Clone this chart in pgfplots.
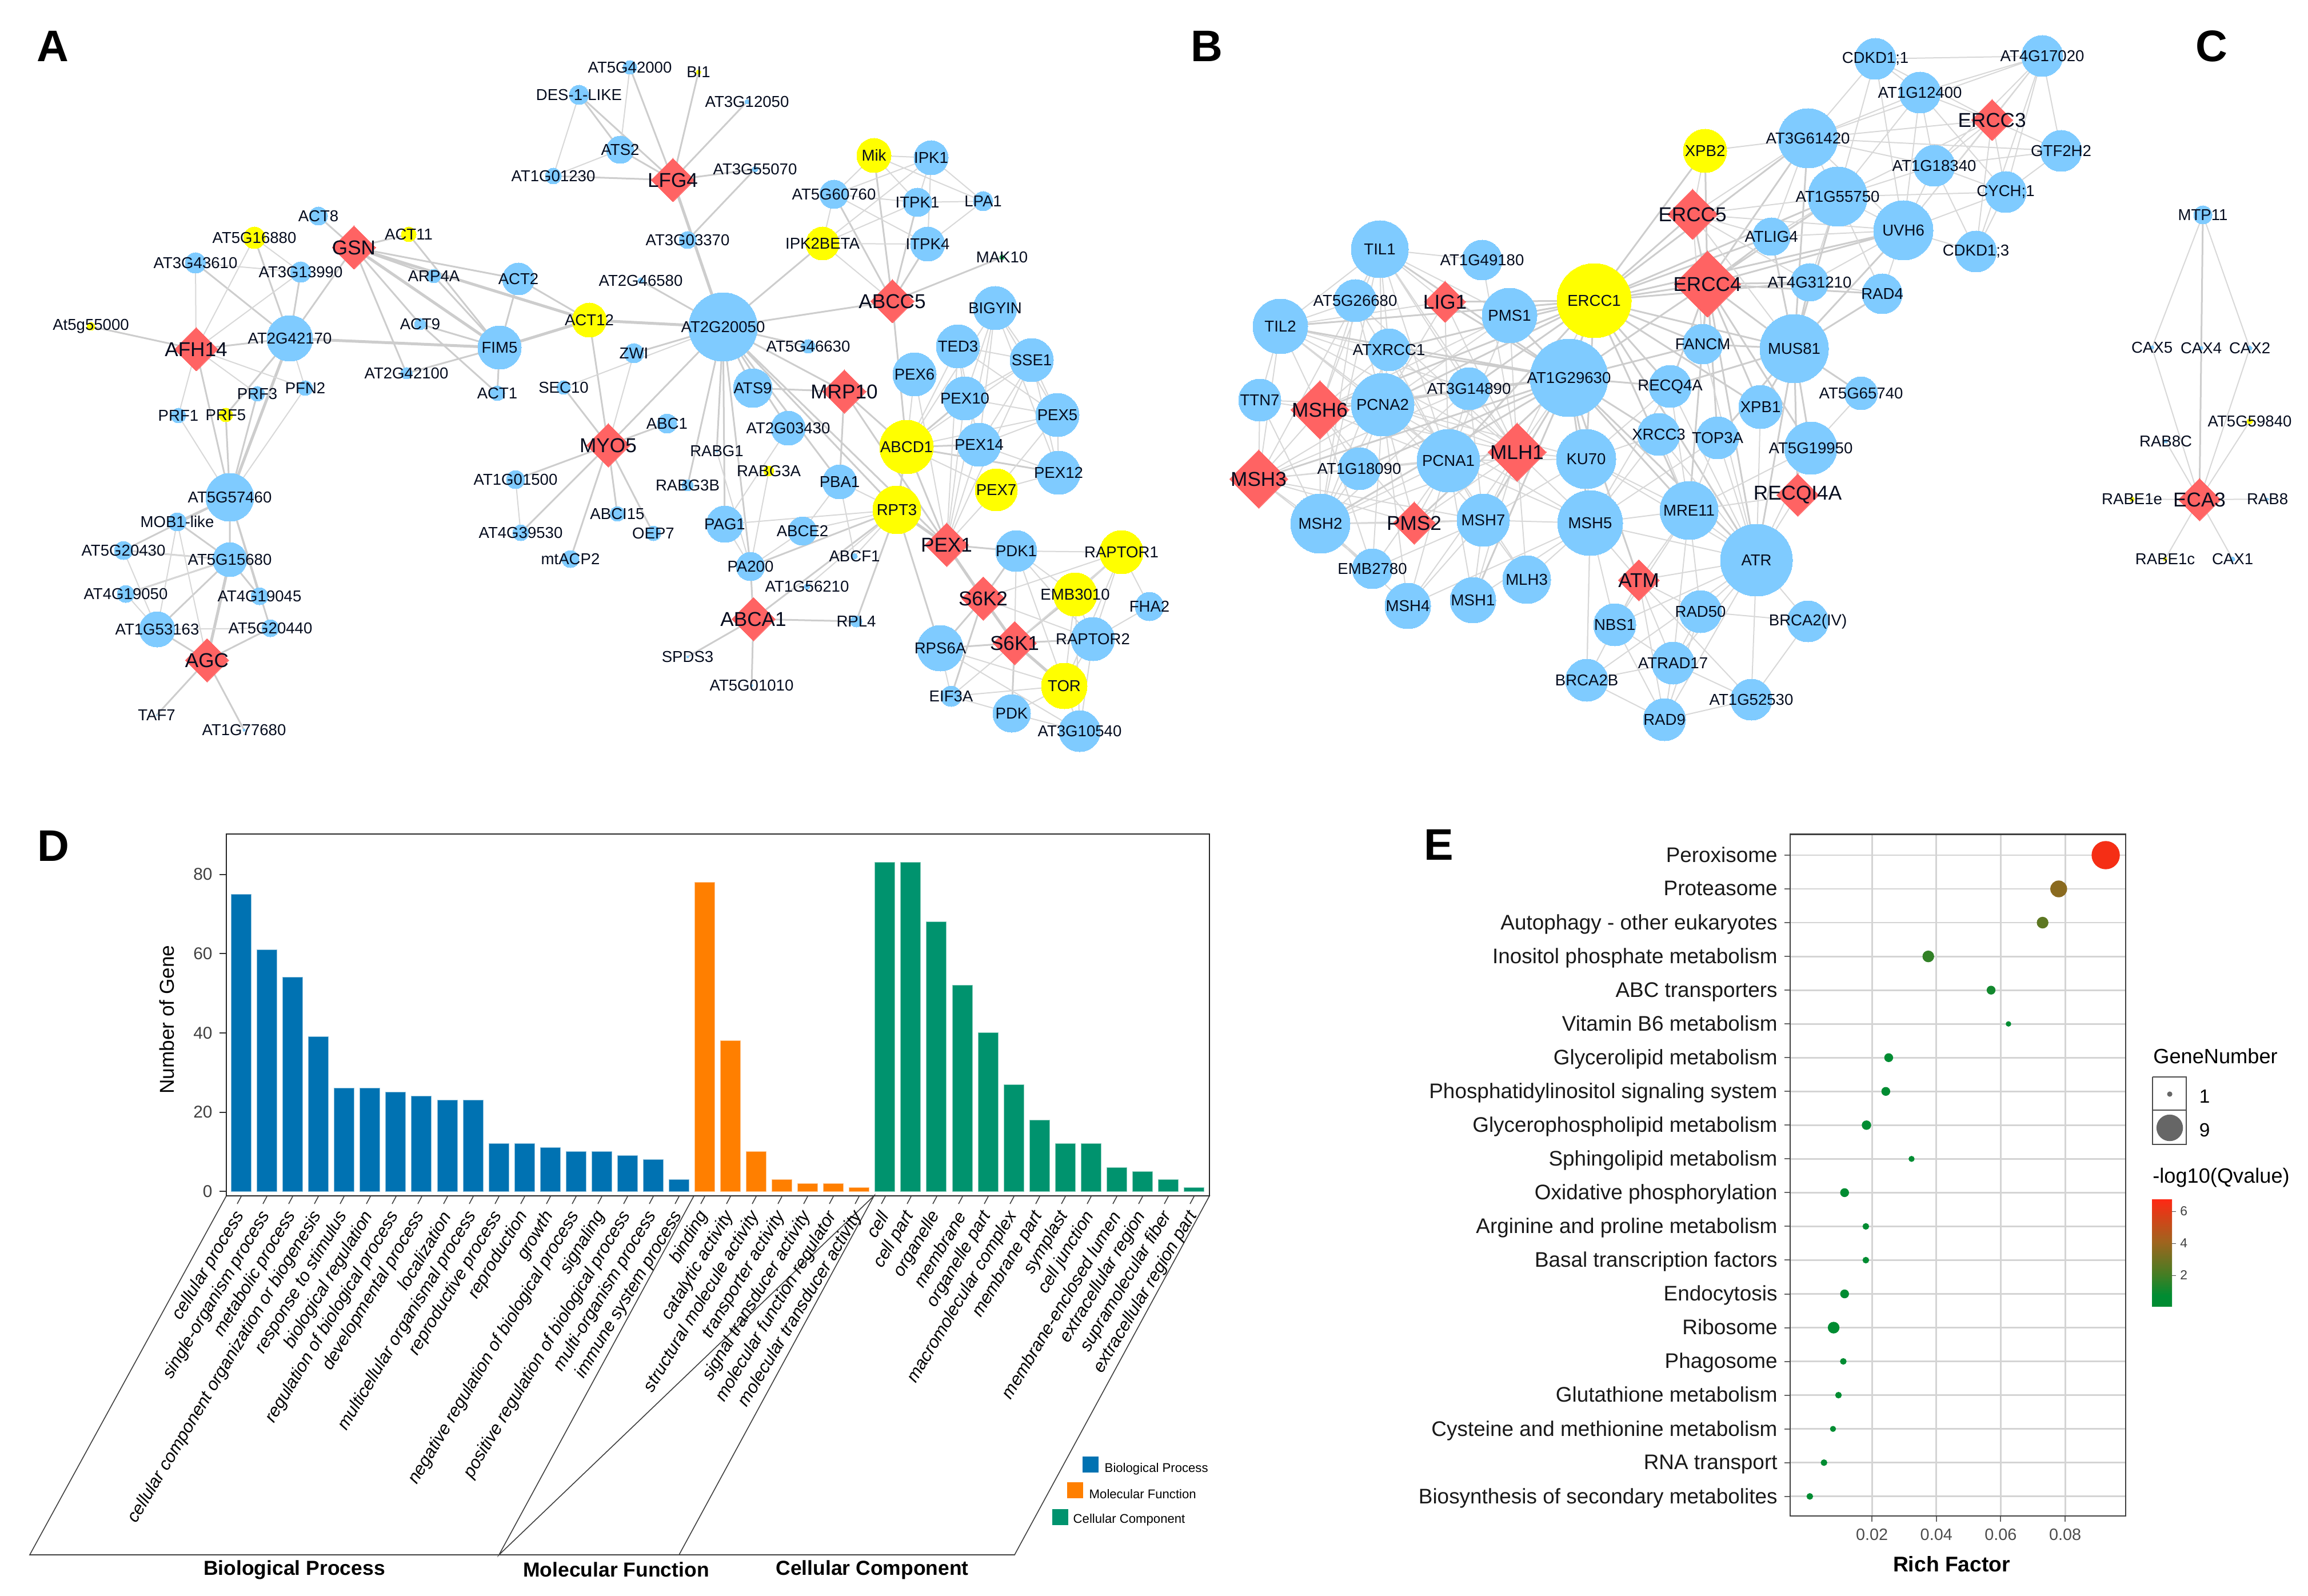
\documentclass[border=0pt]{standalone}
\usepackage{pgfplots}
\usepackage{pgfplotstable}
\usepackage{fontspec}
\setmainfont{Liberation Sans}
\pgfplotsset{compat=1.18}
\definecolor{nblue}{RGB}{127,203,255}
\definecolor{nyel}{RGB}{255,255,0}
\definecolor{nred}{RGB}{255,99,99}
\definecolor{ngreen}{RGB}{40,190,90}
\definecolor{etxt}{RGB}{5,12,30}
\definecolor{ecol}{RGB}{205,205,205}
\definecolor{ethin}{RGB}{216,216,216}
\definecolor{bpblue}{RGB}{0,114,178}
\definecolor{mforange}{RGB}{255,127,0}
\definecolor{ccgreen}{RGB}{0,147,110}
\newcommand{\fs}[1]{\fontsize{#1}{#1}\selectfont}
% a plain ; in a symbolic meta value breaks the coordinate stream
\protected\def\semi{;}
\pgfplotsset{
  edgeT/.style={no marks,sharp plot,unbounded coords=jump,line join=round,color=ecol,line width=0.5mm},
  edgeM/.style={no marks,sharp plot,unbounded coords=jump,line join=round,color=ecol,line width=0.3mm},
  edgeF/.style={no marks,sharp plot,unbounded coords=jump,line join=round,color=ethin,line width=0.2mm},
  net/.style={scatter,only marks,mark=*,
    visualization depends on={0.2845*\thisrow{r}\as\rad},
    scatter/@pre marker code/.code={\scope[mark size=\rad pt]},
    scatter/@post marker code/.code={\endscope}},
  netlab/.style={only marks,mark=none,point meta=explicit symbolic,
    nodes near coords,nodes near coords align={center},
    every node near coord/.append style={inner sep=0pt,text=etxt,font=\fs{#1}}},
}
% network nodes, in pixels of the reference
\pgfplotstableread{
x y r name
557 378 16 ACT8
342 460 18 AT3G43610
526 476 18 AT3G13990
759 483 12 ARP4A
907 488 28 ACT2
507 592 40 AT2G42170
874 608 38 FIM5
735 567 10 ACT9
711 653 10 AT2G42100
870 688 13 ACT1
986 678 12 SEC10
450 689 13 PRF3
534 679 13 PFN2
312 727 13 PRF1
402 870 42 AT5G57460
310 913 16 MOB1-like
216 963 16 AT5G20430
402 979 30 AT5G15680
220 1039 15 AT4G19050
454 1043 15 AT4G19045
275 1101 31 AT1G53163
473 1099 15 AT5G20440
274 1251 1 TAF7
427 1277 2 AT1G77680
1013 166 17 DES-1-LIKE
968 308 14 AT1G01230
902 839 16 AT1G01500
911 932 14 AT4G39530
998 978 15 mtACP2
1102 118 12 AT5G42000
1307 178 4 AT3G12050
1085 262 24 ATS2
1321 296 5 AT3G55070
1629 276 30 IPK1
1459 340 25 AT5G60760
1605 354 25 ITPK1
1720 352 17 LPA1
1203 420 15 AT3G03370
1623 427 30 ITPK4
1121 491 5 AT2G46580
1741 539 38 BIGYIN
1265 572 60 AT2G20050
1676 606 38 TED3
1109 618 17 ZWI
1414 606 12 AT5G46630
1805 630 38 SSE1
1600 655 38 PEX6
1317 679 34 ATS9
1688 697 38 PEX10
1850 726 38 PEX5
1167 741 17 ABC1
1379 749 30 AT2G03430
1713 778 38 PEX14
1254 789 2 RABG1
1469 843 30 PBA1
1203 849 10 RABG3B
1852 827 38 PEX12
1080 899 13 ABCI15
1268 917 32 PAG1
1143 933 13 OEP7
1404 929 25 ABCE2
1778 964 36 PDK1
1495 973 5 ABCF1
1313 991 25 PA200
1412 1026 5 AT1G56210
2011 1061 25 FHA2
1498 1087 10 RPL4
1912 1118 38 RAPTOR2
1645 1134 40 RPS6A
1203 1149 2 SPDS3
1315 1199 2 AT5G01010
1664 1218 18 EIF3A
1770 1248 33 PDK
1889 1279 36 AT3G10540
2414 436 50 TIL1
2593 455 35 AT1G49180
2371 526 37 AT5G26680
2641 552 48 PMS1
2240 571 48 TIL2
2979 602 35 FANCM
2430 612 37 ATXRCC1
2745 661 68 AT1G29630
2922 676 37 RECQ4A
2570 680 37 AT3G14890
2204 700 37 TTN7
2419 708 55 PCNA2
3080 712 38 XPB1
2902 760 37 XRCC3
3005 766 37 TOP3A
2775 803 52 KU70
2534 806 55 PCNA1
2378 820 37 AT1G18090
2310 916 52 MSH2
2595 910 46 MSH7
2782 915 57 MSH5
2955 893 51 MRE11
3073 980 63 ATR
2401 995 35 EMB2780
2671 1014 42 MLH3
2463 1060 40 MSH4
2577 1050 40 MSH1
2975 1070 37 RAD50
2825 1093 37 NBS1
2776 1190 37 BRCA2B
2927 1160 37 ATRAD17
2912 1259 37 RAD9
3064 1224 36 AT1G52530
3099 414 33 ATLIG4
3281 103 36 CDKD1\semi1
3573 98 36 AT4G17020
3359 162 36 AT1G12400
3163 242 52 AT3G61420
3606 264 36 GTF2H2
3384 290 36 AT1G18340
3509 336 36 CYCH\semi1
3215 344 52 AT1G55750
3330 403 52 UVH6
3457 440 36 CDKD1\semi3
3166 494 33 AT4G31210
3293 514 35 RAD4
3139 610 60 MUS81
3256 688 29 AT5G65740
3168 784 46 AT5G19950
3163 1087 36 BRCA2(IV)
3854 376 16 MTP11
3765 608 3 CAX5
3851 609 3 CAX4
3936 609 4 CAX2
3789 772 3 RAB8C
3967 873 2 RAB8
3906 978 4 CAX1
}\tblue
\pgfplotstableread{
x y r name
445 416 19 AT5G16880
715 410 13 ACT11
159 571 7 At5g55000
1031 560 30 ACT12
395 726 12 PRF5
1222 126 4 BI1
1529 272 30 Mik
1439 426 29 IPK2BETA
1586 782 47 ABCD1
1345 824 9 RABG3A
1743 857 37 PEX7
1569 892 42 RPT3
1962 966 38 RAPTOR1
1881 1040 38 EMB3010
1862 1200 40 TOR
2983 264 38 XPB2
2789 526 65 ERCC1
3936 737 5 AT5G59840
3730 873 4 RABE1e
3788 978 3 RABE1c
}\tyellow
\pgfplotstableread{
x y r name
1753 450 4 MAK10
}\tgreen
\pgfplotstableread{
x y r name
619 433 38 GSN
343 611 38 AFH14
362 1155 38 AGC
1177 315 38 LFG4
1561 527 38 ABCC5
1477 685 38 MRP10
1064 779 38 MYO5
1656 953 38 PEX1
1720 1047 38 S6K2
1318 1083 38 ABCA1
1775 1125 38 S6K1
2961 375 44 ERCC5
2987 497 58 ERCC4
2528 528 36 LIG1
2309 717 51 MSH6
2654 791 51 MLH1
2202 838 51 MSH3
2474 915 37 PMS2
2867 1015 36 ATM
3485 210 36 ERCC3
3145 866 37 RECQI4A
3848 874 37 ECA3
}\tred
% panel E points: rich factor, row, radius in pixels, -log10(Q)
\pgfplotstableread{
x y r c
0.0926 0 24 6.5
0.0780 1 14 3.6
0.0730 2 9.5 2.6
0.0375 3 9.5 1.7
0.0570 4 7 1.1
0.0624 5 4 0.5
0.0252 6 7 0.6
0.0243 7 7 0.5
0.0183 8 7.5 0.3
0.0323 9 4.5 0.3
0.0115 10 7 0.3
0.0181 11 5 0.3
0.0181 12 5 0.3
0.0115 13 7 0.3
0.0081 14 9.5 0.2
0.0111 15 5 0.2
0.0096 16 5 0.2
0.0079 17 4.5 0.2
0.0051 18 5 0.2
0.0007 19 5 0.1
}\tenrich
\begin{document}
\begin{tikzpicture}
\path[use as bounding box] (0,0) rectangle (403.8mm,279.2mm);
\begin{axis}[at={(0,0)},anchor=south west,scale only axis,width=403.8mm,height=279.2mm,
  xmin=0,xmax=4038,ymin=0,ymax=2792,y dir=reverse,hide axis,clip=false]
% A: heavy edges
\addplot[edgeT] coordinates {(507,592)(874,608)(1031,560)(1265,572)(1177,315)(0,nan)(619,433)(1031,560)(0,nan)(402,979)(362,1155)(0,nan)(507,592)(402,870)(0,nan)(1656,953)(1720,1047)(1775,1125)(1862,1200)(0,nan)(619,433)(874,608)(0,nan)(1569,892)(1656,953)};
% A: medium edges
\addplot[edgeM] coordinates {
(507,592)(342,460)(507,592)(445,416)(507,592)(526,476)(507,592)(619,433)(507,592)(343,611)(507,592)(395,726)(507,592)(402,870)(0,nan)
(343,611)(159,571)(343,611)(402,870)(0,nan)
(619,433)(557,378)(619,433)(711,653)(619,433)(759,483)(619,433)(735,567)(619,433)(907,488)(619,433)(715,410)(0,nan)
(874,608)(715,410)(874,608)(759,483)(874,608)(735,567)(874,608)(711,653)(874,608)(870,688)(874,608)(907,488)(0,nan)
(735,567)(870,688)(0,nan)(907,488)(1031,560)(0,nan)
(402,870)(395,726)(402,870)(450,689)(402,870)(402,979)(402,870)(454,1043)(402,870)(310,913)(402,870)(216,963)(402,870)(473,1099)(0,nan)
(362,1155)(274,1251)(362,1155)(427,1277)(362,1155)(275,1101)(362,1155)(473,1099)(0,nan)
(402,979)(310,913)(402,979)(220,1039)(402,979)(454,1043)(402,979)(275,1101)(402,979)(216,963)(0,nan)
(1064,779)(1031,560)(1064,779)(986,678)(1064,779)(902,839)(1064,779)(911,932)(1064,779)(998,978)(1064,779)(1080,899)(1064,779)(1143,933)(1064,779)(1167,741)(1064,779)(1265,572)(0,nan)
(1177,315)(1013,166)(1177,315)(1102,118)(1177,315)(1222,126)(1177,315)(1307,178)(1177,315)(1085,262)(1177,315)(968,308)(1177,315)(1321,296)(0,nan)
(1265,572)(1109,618)(1265,572)(1121,491)(1265,572)(1439,426)(1265,572)(1561,527)(1265,572)(1317,679)(1265,572)(1477,685)(1265,572)(1414,606)(1265,572)(1379,749)(1265,572)(1469,843)(1265,572)(1268,917)(1265,572)(1313,991)(1265,572)(1254,789)(1265,572)(1203,849)(1265,572)(1569,892)(1265,572)(1656,953)(0,nan)
(1561,527)(1529,272)(1561,527)(1605,354)(1561,527)(1623,427)(1561,527)(1459,340)(1561,527)(1753,450)(1561,527)(1586,782)(0,nan)
(1477,685)(1317,679)(1477,685)(1586,782)(1477,685)(1656,953)(1477,685)(1469,843)(0,nan)
(1318,1083)(1498,1087)(1318,1083)(1203,1149)(1318,1083)(1315,1199)(1318,1083)(1313,991)(1318,1083)(1569,892)(0,nan)
(1586,782)(1656,953)(1586,782)(1569,892)(1586,782)(1852,827)(1586,782)(1713,778)(1586,782)(1688,697)(0,nan)
(1569,892)(1645,1134)(1569,892)(1498,1087)(1569,892)(1313,991)(0,nan)
(1720,1047)(1645,1134)(1720,1047)(1778,964)(1720,1047)(1664,1218)(0,nan)
(1775,1125)(1912,1118)(1775,1125)(1770,1248)(1775,1125)(1645,1134)(1775,1125)(1881,1040)(0,nan)
(1656,953)(1778,964)(0,nan)(1203,420)(1321,296)(0,nan)(1013,166)(1085,262)(0,nan)(3854,376)(3848,874)};
% A and C: fine edges
\addplot[edgeF] coordinates {
(445,416)(343,611)(445,416)(526,476)(0,nan)(342,460)(526,476)(0,nan)(342,460)(343,611)(526,476)(343,611)(312,727)(402,870)(534,679)(343,611)(0,nan)(507,592)(534,679)(0,nan)(343,611)(450,689)(0,nan)
(310,913)(275,1101)(216,963)(402,979)(0,nan)(220,1039)(275,1101)(473,1099)(0,nan)(310,913)(362,1155)(0,nan)(220,1039)(402,979)(0,nan)
(968,308)(1085,262)(1102,118)(0,nan)(1013,166)(968,308)(0,nan)(902,839)(911,932)(0,nan)(1109,618)(1064,779)(0,nan)(986,678)(1265,572)(0,nan)
(1529,272)(1629,276)(1529,272)(1605,354)(1529,272)(1720,352)(1529,272)(1459,340)(0,nan)
(1629,276)(1605,354)(1629,276)(1459,340)(1629,276)(1439,426)(1629,276)(1623,427)(1629,276)(1720,352)(0,nan)
(1439,426)(1623,427)(1439,426)(1605,354)(1439,426)(1561,527)(1439,426)(1459,340)(0,nan)
(1459,340)(1605,354)(1459,340)(1623,427)(0,nan)(1623,427)(1720,352)(1605,354)(0,nan)
(1656,953)(1741,539)(1656,953)(1676,606)(1656,953)(1600,655)(1656,953)(1688,697)(1656,953)(1713,778)(1656,953)(1743,857)(1656,953)(1805,630)(0,nan)
(1586,782)(1741,539)(1586,782)(1676,606)(1586,782)(1805,630)(1586,782)(1600,655)(1586,782)(1850,726)(1586,782)(1743,857)(0,nan)
(1741,539)(1805,630)(1741,539)(1850,726)(1741,539)(1688,697)(1741,539)(1713,778)(1741,539)(1852,827)(0,nan)
(1676,606)(1805,630)(1676,606)(1850,726)(1676,606)(1713,778)(1676,606)(1688,697)(0,nan)
(1805,630)(1850,726)(1805,630)(1852,827)(1805,630)(1713,778)(1805,630)(1688,697)(0,nan)
(1850,726)(1852,827)(1850,726)(1713,778)(1850,726)(1688,697)(1850,726)(1743,857)(0,nan)
(1852,827)(1743,857)(1852,827)(1713,778)(0,nan)
(1569,892)(1469,843)(1569,892)(1404,929)(1569,892)(1268,917)(1569,892)(1412,1026)(1569,892)(1495,973)(0,nan)
(1469,843)(1495,973)(0,nan)(1469,843)(1404,929)(1313,991)(1268,917)(1379,749)(0,nan)(1345,824)(1313,991)(1254,789)(0,nan)
(1862,1200)(1770,1248)(1862,1200)(1889,1279)(1862,1200)(1912,1118)(1862,1200)(1881,1040)(1862,1200)(1962,966)(1862,1200)(1645,1134)(1862,1200)(1664,1218)(1862,1200)(1778,964)(0,nan)
(1962,966)(1881,1040)(1962,966)(1912,1118)(1962,966)(1775,1125)(1962,966)(1720,1047)(1962,966)(1778,964)(1962,966)(2011,1061)(0,nan)
(1889,1279)(1912,1118)(1889,1279)(1770,1248)(1889,1279)(1645,1134)(1889,1279)(1881,1040)(0,nan)
(1912,1118)(2011,1061)(1912,1118)(1881,1040)(1912,1118)(1720,1047)(0,nan)
(1778,964)(1881,1040)(1778,964)(1775,1125)(1778,964)(1912,1118)(0,nan)
(1664,1218)(1770,1248)(1664,1218)(1775,1125)(1664,1218)(1645,1134)(0,nan)
(3854,376)(3765,608)(3848,874)(3936,609)(3854,376)(0,nan)
(3848,874)(3936,737)(3848,874)(3789,772)(3848,874)(3730,873)(3848,874)(3967,873)(3848,874)(3788,978)(3848,874)(3906,978)};
% B: fine edges, mismatch repair side
\addplot[edgeF] coordinates {
(2654,791)(2414,436)(2654,791)(2240,571)(2654,791)(2528,528)(2654,791)(2593,455)(2654,791)(2641,552)(2654,791)(2371,526)(2654,791)(2430,612)(2654,791)(2419,708)(2654,791)(2570,680)(2654,791)(2309,717)(2654,791)(2202,838)(2654,791)(2378,820)(2654,791)(2310,916)(2654,791)(2474,915)(2654,791)(2595,910)(2654,791)(2577,1050)(2654,791)(2463,1060)(2654,791)(2671,1014)(2654,791)(2775,803)(2654,791)(2782,915)(2654,791)(2745,661)(2654,791)(2789,526)(0,nan)
(2534,806)(2414,436)(2534,806)(2240,571)(2534,806)(2371,526)(2534,806)(2528,528)(2534,806)(2430,612)(2534,806)(2570,680)(2534,806)(2641,552)(2534,806)(2309,717)(2534,806)(2419,708)(2534,806)(2202,838)(2534,806)(2378,820)(2534,806)(2310,916)(2534,806)(2474,915)(2534,806)(2595,910)(2534,806)(2463,1060)(2534,806)(2577,1050)(2534,806)(2401,995)(2534,806)(2671,1014)(2534,806)(2775,803)(2534,806)(2782,915)(0,nan)
(2419,708)(2414,436)(2419,708)(2240,571)(2419,708)(2371,526)(2419,708)(2528,528)(2419,708)(2430,612)(2419,708)(2570,680)(2419,708)(2641,552)(2419,708)(2202,838)(2419,708)(2204,700)(2419,708)(2310,916)(2419,708)(2378,820)(2419,708)(2474,915)(2419,708)(2595,910)(2419,708)(2401,995)(2419,708)(2463,1060)(2419,708)(2775,803)(2419,708)(2782,915)(0,nan)
(2310,916)(2414,436)(2310,916)(2204,700)(2310,916)(2202,838)(2310,916)(2309,717)(2310,916)(2371,526)(2310,916)(2430,612)(2310,916)(2378,820)(2310,916)(2474,915)(2310,916)(2401,995)(2310,916)(2463,1060)(2310,916)(2595,910)(2310,916)(2570,680)(0,nan)
(2309,717)(2414,436)(2309,717)(2240,571)(2309,717)(2204,700)(2309,717)(2371,526)(2309,717)(2430,612)(2309,717)(2202,838)(2309,717)(2401,995)(2309,717)(2378,820)(2309,717)(2474,915)(2309,717)(2570,680)(2309,717)(2641,552)(0,nan)
(2202,838)(2240,571)(2202,838)(2204,700)(2202,838)(2371,526)(2202,838)(2378,820)(2202,838)(2401,995)(2202,838)(2474,915)(2202,838)(2570,680)(2202,838)(2595,910)(0,nan)
(2414,436)(2593,455)(2414,436)(2240,571)(2414,436)(2371,526)(2414,436)(2528,528)(2414,436)(2430,612)(2414,436)(2570,680)(2414,436)(2641,552)(0,nan)
(2240,571)(2371,526)(2240,571)(2204,700)(2240,571)(2430,612)(2240,571)(2570,680)(2240,571)(2528,528)(0,nan)
(2595,910)(2474,915)(2595,910)(2463,1060)(2595,910)(2577,1050)(2595,910)(2671,1014)(2595,910)(2782,915)(2595,910)(2775,803)(2595,910)(2570,680)(2595,910)(2401,995)(0,nan)
(2782,915)(2775,803)(2782,915)(2577,1050)(2782,915)(2671,1014)(2782,915)(2463,1060)(2782,915)(2955,893)(2782,915)(3073,980)(2782,915)(2867,1015)(2782,915)(2825,1093)(2782,915)(2776,1190)(2782,915)(2902,760)(2782,915)(2922,676)(2782,915)(3005,766)(0,nan)
(2775,803)(2955,893)(2775,803)(3073,980)(2775,803)(2902,760)(2775,803)(2922,676)};
% B: medium edges
\addplot[edgeM] coordinates {
(2745,661)(2240,571)(2745,661)(2414,436)(2745,661)(2430,612)(2745,661)(2570,680)(2745,661)(2528,528)(2745,661)(2641,552)(2745,661)(2309,717)(2745,661)(2378,820)(2745,661)(2202,838)(2745,661)(2310,916)(2745,661)(2474,915)(2745,661)(2595,910)(2745,661)(2577,1050)(2745,661)(2775,803)(2745,661)(2782,915)(2745,661)(2987,497)(2745,661)(2922,676)(2745,661)(2955,893)(2745,661)(3073,980)(2745,661)(2867,1015)(2745,661)(2979,602)(2745,661)(2902,760)(0,nan)
(2789,526)(2240,571)(2789,526)(2430,612)(2789,526)(2570,680)(2789,526)(2641,552)(2789,526)(2745,661)(2789,526)(2775,803)(2789,526)(2528,528)(2789,526)(2309,717)(2789,526)(2419,708)(2789,526)(2534,806)(2789,526)(2987,497)(2789,526)(2961,375)(2789,526)(2983,264)(2789,526)(3099,414)(2789,526)(3166,494)(2789,526)(3139,610)(2789,526)(2979,602)(2789,526)(2922,676)(2789,526)(3080,712)(2789,526)(2955,893)(2789,526)(3073,980)(2789,526)(3163,242)(2789,526)(3330,403)(2789,526)(3215,344)(0,nan)
(2987,497)(2983,264)(2987,497)(2961,375)(2987,497)(3099,414)(2987,497)(3166,494)(2987,497)(3139,610)(2987,497)(2979,602)(2987,497)(2922,676)(2987,497)(3080,712)(2987,497)(3005,766)(2987,497)(3163,242)(2987,497)(3215,344)(2987,497)(3330,403)(2987,497)(3293,514)(2987,497)(3168,784)(2987,497)(2955,893)(2987,497)(3073,980)(0,nan)
(3139,610)(3099,414)(3139,610)(3166,494)(3139,610)(3215,344)(3139,610)(3163,242)(3139,610)(3330,403)(3139,610)(3256,688)(3139,610)(3168,784)(3139,610)(3145,866)(3139,610)(3080,712)(3139,610)(2979,602)(3139,610)(2922,676)(3139,610)(3005,766)(3139,610)(3073,980)(3139,610)(3293,514)};
% B: fine edges, excision repair side
\addplot[edgeF] coordinates {
(3073,980)(2955,893)(3073,980)(2902,760)(3073,980)(3005,766)(3073,980)(2922,676)(3073,980)(2979,602)(3073,980)(2867,1015)(3073,980)(2975,1070)(3073,980)(2825,1093)(3073,980)(2927,1160)(3073,980)(2912,1259)(3073,980)(3064,1224)(3073,980)(3163,1087)(3073,980)(2776,1190)(3073,980)(3080,712)(3073,980)(3145,866)(3073,980)(3168,784)(0,nan)
(2955,893)(2902,760)(2955,893)(3005,766)(2955,893)(2922,676)(2955,893)(2867,1015)(2955,893)(2975,1070)(2955,893)(2825,1093)(2955,893)(2927,1160)(2955,893)(3145,866)(2955,893)(3168,784)(0,nan)
(2867,1015)(2825,1093)(2867,1015)(2975,1070)(2867,1015)(2927,1160)(2867,1015)(2912,1259)(2867,1015)(2776,1190)(2867,1015)(3064,1224)(0,nan)
(2912,1259)(2776,1190)(2912,1259)(2927,1160)(2912,1259)(3064,1224)(2912,1259)(2975,1070)(2912,1259)(2825,1093)(0,nan)
(2927,1160)(2776,1190)(2927,1160)(2825,1093)(2927,1160)(2975,1070)(2927,1160)(3064,1224)(0,nan)
(2782,915)(2776,1190)(0,nan)(2961,375)(2983,264)(2961,375)(3099,414)(2961,375)(3163,242)(2961,375)(3215,344)(2961,375)(3330,403)(2961,375)(2979,602)(2961,375)(3139,610)(2961,375)(3166,494)(0,nan)
(3330,403)(3163,242)(3330,403)(3215,344)(3330,403)(3384,290)(3330,403)(3509,336)(3330,403)(3457,440)(3330,403)(3485,210)(3330,403)(3359,162)(3330,403)(3293,514)(3330,403)(3166,494)(3330,403)(3099,414)(3330,403)(3281,103)(3330,403)(3573,98)(0,nan)
(3163,242)(2983,264)(3163,242)(3359,162)(3163,242)(3281,103)(3163,242)(3485,210)(3163,242)(3384,290)(3163,242)(3606,264)(3163,242)(3215,344)(3163,242)(3099,414)(3163,242)(3573,98)(0,nan)
(3215,344)(3359,162)(3215,344)(3281,103)(3215,344)(3485,210)(3215,344)(3384,290)(3215,344)(3509,336)(3215,344)(3099,414)(3215,344)(3293,514)(3215,344)(3166,494)(0,nan)
(3485,210)(3281,103)(3485,210)(3359,162)(3485,210)(3573,98)(3485,210)(3606,264)(3485,210)(3384,290)(3485,210)(3509,336)(3485,210)(3457,440)(0,nan)
(3384,290)(3359,162)(3384,290)(3573,98)(3384,290)(3606,264)(3384,290)(3509,336)(3384,290)(3457,440)(0,nan)
(3509,336)(3573,98)(3509,336)(3606,264)(3509,336)(3457,440)(3509,336)(3359,162)(0,nan)
(3573,98)(3281,103)(3573,98)(3359,162)(3573,98)(3606,264)(3573,98)(3457,440)(0,nan)
(3281,103)(3359,162)(0,nan)(3166,494)(3293,514)(0,nan)(3168,784)(3256,688)(0,nan)(3163,1087)(3064,1224)(0,nan)(2975,1070)(3163,1087)};
% network nodes
\addplot[net,mark options={draw=nblue,fill=nblue,line width=0pt}] table[x=x,y=y] {\tblue};
\addplot[net,mark options={draw=nyel,fill=nyel,line width=0pt}] table[x=x,y=y] {\tyellow};
\addplot[net,mark options={draw=ngreen,fill=ngreen,line width=0pt}] table[x=x,y=y] {\tgreen};
\addplot[scatter,only marks,mark=square*,
  mark options={draw=nred,fill=nred,line width=0pt,rotate=45},
  visualization depends on={0.2012*\thisrow{r}\as\rad},
  scatter/@pre marker code/.code={\scope[mark size=\rad pt]},
  scatter/@post marker code/.code={\endscope}] table[x=x,y=y] {\tred};
% network labels
\addplot[netlab=7.85] table[x=x,y=y,meta=name] {\tblue};
\addplot[netlab=7.85] table[x=x,y=y,meta=name] {\tyellow};
\addplot[netlab=7.85] table[x=x,y=y,meta=name] {\tgreen};
\addplot[netlab=10] table[x=x,y=y,meta=name] {\tred};
% D: slanted label area
\addplot[black!75,line width=0.16mm] coordinates {(396,2092)(52,2720)(1775,2720)(2116,2092)(0,nan)(1214,2092)(873,2720)(0,nan)(1529,2092)(1188,2720)};
% D: slanted ticks
\addplot[black!75,line width=0.16mm,no marks,unbounded coords=jump] coordinates {
(422,2093)(415,2106)(0,nan)(467,2093)(460,2106)(0,nan)(512,2093)(505,2106)(0,nan)(557,2093)(550,2106)(0,nan)(602,2093)(595,2106)(0,nan)(648,2093)(641,2106)(0,nan)(693,2093)(686,2106)(0,nan)(738,2093)(731,2106)(0,nan)(783,2093)(776,2106)(0,nan)(828,2093)(821,2106)(0,nan)
(873,2093)(866,2106)(0,nan)(918,2093)(911,2106)(0,nan)(963,2093)(956,2106)(0,nan)(1008,2093)(1001,2106)(0,nan)(1053,2093)(1046,2106)(0,nan)(1098,2093)(1091,2106)(0,nan)(1143,2093)(1136,2106)(0,nan)(1188,2093)(1181,2106)(0,nan)(1233,2093)(1226,2106)(0,nan)(1278,2093)(1271,2106)(0,nan)
(1323,2093)(1316,2106)(0,nan)(1368,2093)(1361,2106)(0,nan)(1413,2093)(1406,2106)(0,nan)(1458,2093)(1451,2106)(0,nan)(1503,2093)(1496,2106)(0,nan)(1549,2093)(1542,2106)(0,nan)(1594,2093)(1587,2106)(0,nan)(1639,2093)(1632,2106)(0,nan)(1684,2093)(1677,2106)(0,nan)(1729,2093)(1722,2106)(0,nan)
(1774,2093)(1767,2106)(0,nan)(1819,2093)(1812,2106)(0,nan)(1864,2093)(1857,2106)(0,nan)(1909,2093)(1902,2106)(0,nan)(1954,2093)(1947,2106)(0,nan)(1999,2093)(1992,2106)(0,nan)(2044,2093)(2037,2106)(0,nan)(2089,2093)(2082,2106)};
% D: legend
\addplot[only marks,mark=square*,mark size=3.9pt,color=bpblue] coordinates {(1908,2562)};
\addplot[only marks,mark=square*,mark size=3.9pt,color=mforange] coordinates {(1881,2607)};
\addplot[only marks,mark=square*,mark size=3.9pt,color=ccgreen] coordinates {(1855,2654)};
% E: size legend
\addplot[black!70,line width=0.2mm] coordinates {(3766,1884)(3825,1884)(3825,2002)(3766,2002)(3766,1884)(0,nan)(3766,1942)(3825,1942)};
\addplot[only marks,mark=*,mark size=1.1pt,color=black!60] coordinates {(3796,1914)};
\addplot[only marks,mark=*,mark size=6.4pt,color=black!60] coordinates {(3796,1973)};
% text
\node[font=\fs{22}\bfseries] at (axis cs:92,81) {A};
\node[font=\fs{22}\bfseries] at (axis cs:2111,81) {B};
\node[font=\fs{22}\bfseries] at (axis cs:3869,81) {C};
\node[font=\fs{22}\bfseries] at (axis cs:93,1480) {D};
\node[font=\fs{22}\bfseries] at (axis cs:2517,1478) {E};
\node[font=\fs{10.1}\bfseries] at (axis cs:515,2746) {Biological Process};
\node[font=\fs{10.1}\bfseries] at (axis cs:1078,2746) {Molecular Function};
\node[font=\fs{10.1}\bfseries] at (axis cs:1526,2746) {Cellular Component};
\node[font=\fs{6.3},anchor=west,inner sep=0pt] at (axis cs:1932,2570) {Biological Process};
\node[font=\fs{6.3},anchor=west,inner sep=0pt] at (axis cs:1905,2614) {Molecular Function};
\node[font=\fs{6.3},anchor=west,inner sep=0pt] at (axis cs:1877,2659) {Cellular Component};
\node[font=\fs{10.3}] at (axis cs:3876,1848) {GeneNumber};
\node[font=\fs{10.3}] at (axis cs:3886,2060) {-log10(Qvalue)};
\node[font=\fs{9.5}] at (axis cs:3857,1918) {1};
\node[font=\fs{9.5}] at (axis cs:3857,1977) {9};
\end{axis}
% D: bar chart
\begin{axis}[at={(39.6mm,69.95mm)},anchor=south west,scale only axis,width=172mm,height=63.35mm,
  xmin=-0.58,xmax=37.6,ymin=-1.2,ymax=90.2,
  ybar,bar width=3.5mm,bar shift=0pt,
  ytick={0,20,40,60,80},xtick={0,...,37},xtick pos=bottom,ytick pos=left,tick align=outside,
  major tick length=1.2mm,
  axis line style={black!85,line width=0.2mm},
  tick style={black!80,line width=0.2mm},x tick style={draw=none},
  /pgf/number format/assume math mode=true,
  yticklabel style={font=\fs{8.5},text=black!75},
  xticklabels={cellular process,single-organism process,metabolic process,cellular component organization or biogenesis,response to stimulus,biological regulation,regulation of biological process,developmental process,localization,multicellular organismal process,reproductive process,reproduction,growth,negative regulation of biological process,signaling,positive regulation of biological process,multi-organism process,immune system process,binding,catalytic activity,structural molecule activity,transporter activity,signal transducer activity,molecular function regulator,molecular transducer activity,cell,cell part,organelle,membrane,organelle part,macromolecular complex,membrane part,symplast,cell junction,membrane-enclosed lumen,extracellular region,supramolecular fiber,extracellular region part},
  xticklabel style={font=\fs{8.8}\itshape,xshift=-0.1mm,yshift=-1.7mm,rotate=59,anchor=east,inner sep=0pt},
  ylabel={Number of Gene},ylabel style={font=\fs{10}},
  every axis y label/.style={at={(-10.4mm,30.9mm)},rotate=90,anchor=center,font=\fs{10}}]
\addplot[fill=bpblue,draw=bpblue!45!white,line width=0.1mm] coordinates {(0,75)(1,61)(2,54)(3,39)(4,26)(5,26)(6,25)(7,24)(8,23)(9,23)(10,12)(11,12)(12,11)(13,10)(14,10)(15,9)(16,8)(17,3)};
\addplot[fill=mforange,draw=mforange!45!white,line width=0.1mm] coordinates {(18,78)(19,38)(20,10)(21,3)(22,2)(23,2)(24,1)};
\addplot[fill=ccgreen,draw=ccgreen!45!white,line width=0.1mm] coordinates {(25,83)(26,83)(27,68)(28,52)(29,40)(30,27)(31,18)(32,12)(33,12)(34,6)(35,5)(36,3)(37,1)};
\end{axis}
% E: enrichment bubbles
\begin{axis}[at={(313.2mm,14mm)},anchor=south west,scale only axis,width=58.7mm,height=119.25mm,
  xmin=-0.0054,xmax=0.0988,ymin=-0.618,ymax=19.58,y dir=reverse,
  scaled x ticks=false,
  xtick={0.02,0.04,0.06,0.08},xticklabels={0.02,0.04,0.06,0.08},ytick={0,...,19},
  xtick pos=bottom,ytick pos=left,tick align=outside,major tick length=1mm,
  grid=major,grid style={black!17,line width=0.28mm},
  axis line style={black!75,line width=0.22mm},tick style={black!60,line width=0.2mm},
  yticklabels={Peroxisome,Proteasome,Autophagy - other eukaryotes,Inositol phosphate metabolism,ABC transporters,Vitamin B6 metabolism,Glycerolipid metabolism,Phosphatidylinositol signaling system,Glycerophospholipid metabolism,Sphingolipid metabolism,Oxidative phosphorylation,Arginine and proline metabolism,Basal transcription factors,Endocytosis,Ribosome,Phagosome,Glutathione metabolism,Cysteine and methionine metabolism,RNA transport,Biosynthesis of secondary metabolites},
  typeset ticklabels with strut,
  yticklabel style={font=\fs{10.5},text=black!90,yshift=-0.45mm},
  xticklabel style={font=\fs{8.2},text=black!70},
  xlabel={Rich Factor},xlabel style={font=\fs{10.6}\bfseries,yshift=0.5mm,xshift=-1.1mm},
  colormap={qval}{rgb255(0cm)=(0,140,50) rgb255(1cm)=(0,140,50) rgb255(3cm)=(70,125,35) rgb255(6cm)=(160,100,30) rgb255(10cm)=(255,40,20)},
  point meta min=0.07,point meta max=6.79,
  colorbar,
  colorbar style={at={(parent axis.north west)},anchor=north west,xshift=60.3mm,yshift=-63.75mm,
    scale only axis,width=3.5mm,height=18.8mm,ytick={2,4,6},ytick pos=right,
    tick align=outside,major tick length=0.7mm,tick style={black!70},axis line style={draw=none},
    /pgf/number format/assume math mode=true,
    yticklabel style={font=\fs{6.5},text=black!75,xshift=-0.5mm}}]
\addplot[scatter,only marks,mark=*,point meta=explicit,
  scatter/use mapped color={draw=mapped color,fill=mapped color},
  visualization depends on={0.2845*\thisrow{r}\as\rad},
  scatter/@pre marker code/.append style={/tikz/mark size=\rad pt}]
  table[x=x,y=y,meta=c] {\tenrich};
\end{axis}
\end{tikzpicture}
\end{document}
